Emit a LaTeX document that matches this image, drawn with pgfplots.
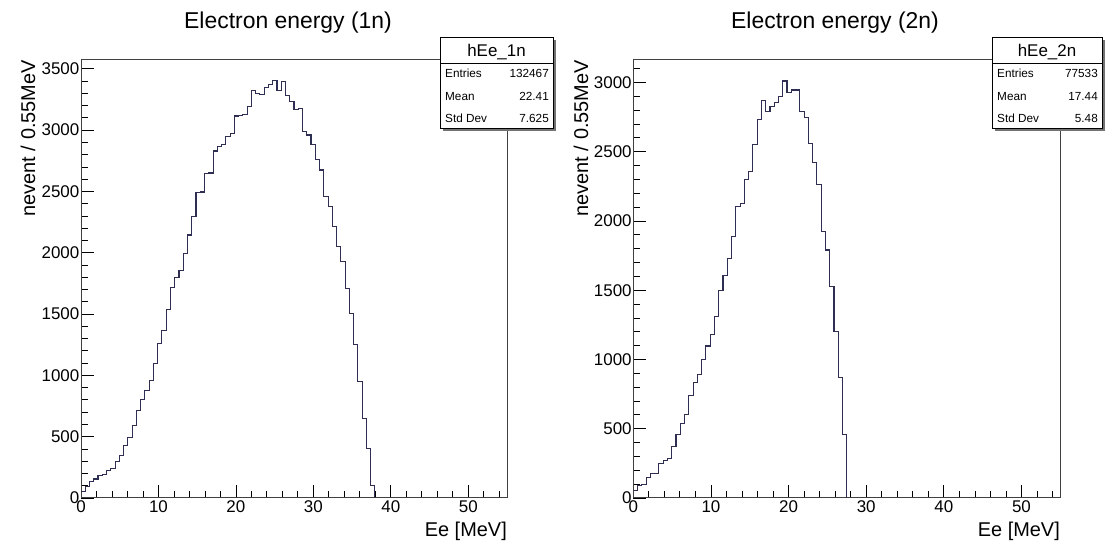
\documentclass[border=0pt]{standalone}
\usepackage{pgfplots}
\pgfplotsset{compat=1.18}
\usepackage{pgfplotstable}
\usepackage{fontspec}
\setmainfont{Liberation Sans}
\definecolor{histc}{rgb}{0.18,0.18,0.32}
\definecolor{framec}{rgb}{0.25,0.25,0.25}

\pgfplotstableread{
x y
0 55
0.55 95
1.1 135
1.65 155
2.2 180
2.75 195
3.3 225
3.85 240
4.4 295
4.95 345
5.5 430
6.05 495
6.6 590
7.15 715
7.7 805
8.25 880
8.8 955
9.35 1095
9.9 1260
10.45 1365
11 1540
11.55 1720
12.1 1800
12.65 1855
13.2 1995
13.75 2145
14.3 2295
14.85 2490
15.4 2495
15.95 2645
16.5 2650
17.05 2830
17.6 2870
18.15 2880
18.7 2950
19.25 2975
19.8 3115
20.35 3120
20.9 3130
21.45 3195
22 3325
22.55 3300
23.1 3290
23.65 3345
24.2 3370
24.75 3405
25.3 3320
25.85 3400
26.4 3280
26.95 3235
27.5 3165
28.05 3180
28.6 2990
29.15 2960
29.7 2880
30.25 2760
30.8 2675
31.35 2460
31.9 2375
32.45 2215
33 2050
33.55 1930
34.1 1710
34.65 1505
35.2 1250
35.75 950
36.3 650
36.85 405
37.4 105
37.95 0
}\histone

\pgfplotstableread{
x y
0 55
0.55 88
1.1 95
1.65 150
2.2 175
2.75 180
3.3 252
3.85 270
4.4 285
4.95 372
5.5 457
6.05 537
6.6 600
7.15 738
7.7 832
8.25 892
8.8 1000
9.35 1097
9.9 1182
10.45 1313
11 1500
11.55 1605
12.1 1730
12.65 1890
13.2 2105
13.75 2125
14.3 2300
14.85 2355
15.4 2550
15.95 2735
16.5 2870
17.05 2790
17.6 2825
18.15 2855
18.7 2900
19.25 3010
19.8 2930
20.35 2945
20.9 2945
21.45 2790
22 2745
22.55 2560
23.1 2425
23.65 2260
24.2 1923
24.75 1790
25.3 1527
25.85 1200
26.4 867
26.95 460
27.5 0
}\histtwo

\pgfplotsset{
  rootaxis/.style={
    scale only axis,
    height=438bp,
    xmin=0, xmax=55,
    ymin=0,
    tick align=inside,
    xtick pos=left, ytick pos=left,
    xtick={0,10,20,30,40,50},
    minor xtick={2,4,6,8,12,14,16,18,22,24,26,28,32,34,36,38,42,44,46,48,52,54},
    major tick length=13bp, minor tick length=6.5bp,
    every tick/.style={black, line width=0.8bp},
    axis line style={framec, line width=1bp},
    tick label style={font=\fontsize{17}{17}\selectfont, text=black},
    yticklabel style={inner sep=1.5bp},
    xticklabel style={inner sep=2bp},
    /pgf/number format/1000 sep={},
    /pgf/number format/assume math mode=true,
    clip=true,
  },
  histline/.style={const plot mark left, no marks, color=histc, line width=1.1bp},
}

\begin{document}
\begin{tikzpicture}[x=1bp, y=1bp]
\useasboundingbox (0,0) rectangle (1105,545);

\begin{axis}[rootaxis, at={(81bp,47bp)}, anchor=south west, width=426bp,
  ymax=3572,
  ytick={0,500,1000,1500,2000,2500,3000,3500},
  minor ytick={100,200,300,400,600,700,800,900,1100,1200,1300,1400,1600,1700,1800,1900,2100,2200,2300,2400,2600,2700,2800,2900,3100,3200,3300,3400},
]
\addplot[histline] table[x=x, y=y] {\histone};
\end{axis}

\begin{axis}[rootaxis, at={(633.3bp,47bp)}, anchor=south west, width=427bp,
  ymax=3162,
  ytick={0,500,1000,1500,2000,2500,3000},
  minor ytick={100,200,300,400,600,700,800,900,1100,1200,1300,1400,1600,1700,1800,1900,2100,2200,2300,2400,2600,2700,2800,2900,3100},
]
\addplot[histline] table[x=x, y=y] {\histtwo};
\end{axis}

% titles
\node[anchor=base, font=\fontsize{23}{23}\selectfont] at (288,516) {Electron energy (1n)};
\node[anchor=base, font=\fontsize{23}{23}\selectfont] at (835,516) {Electron energy (2n)};

% axis titles
\node[anchor=base east, inner sep=0pt, font=\fontsize{20}{20}\selectfont] at (507,8) {Ee [MeV]};
\node[anchor=base east, inner sep=0pt, font=\fontsize{20}{20}\selectfont] at (1060,8) {Ee [MeV]};
\node[rotate=90, anchor=base east, inner sep=0pt, font=\fontsize{20}{20}\selectfont] at (35,485) {nevent / 0.55MeV};
\node[rotate=90, anchor=base east, inner sep=0pt, font=\fontsize{20}{20}\selectfont] at (588,485) {nevent / 0.55MeV};

% stats box 1
\fill[black!55] (443,414) rectangle (556,505);
\filldraw[fill=white, draw=black, line width=0.8bp] (440,417) rectangle (553,508);
\draw[black, line width=0.8bp] (440,482) -- (553,482);
\node[anchor=base, inner sep=0pt, font=\fontsize{17}{17}\selectfont] at (496.5,488) {hEe\_1n};
\begin{scope}[every node/.style={inner sep=0pt, font=\fontsize{11.8}{12}\selectfont}]
\node[anchor=base west] at (445,467) {Entries};
\node[anchor=base east] at (549,467) {132467};
\node[anchor=base west] at (445,444) {Mean};
\node[anchor=base east] at (549,444) {22.41};
\node[anchor=base west] at (445,422) {Std Dev};
\node[anchor=base east] at (549,422) {7.625};
\end{scope}

% stats box 2
\fill[black!55] (995,414) rectangle (1105,505);
\filldraw[fill=white, draw=black, line width=0.8bp] (992,417) rectangle (1102,508);
\draw[black, line width=0.8bp] (992,482) -- (1102,482);
\node[anchor=base, inner sep=0pt, font=\fontsize{17}{17}\selectfont] at (1047,488) {hEe\_2n};
\begin{scope}[every node/.style={inner sep=0pt, font=\fontsize{11.8}{12}\selectfont}]
\node[anchor=base west] at (997,467) {Entries};
\node[anchor=base east] at (1098,467) {77533};
\node[anchor=base west] at (997,444) {Mean};
\node[anchor=base east] at (1098,444) {17.44};
\node[anchor=base west] at (997,422) {Std Dev};
\node[anchor=base east] at (1098,422) {5.48};
\end{scope}
\end{tikzpicture}
\end{document}
